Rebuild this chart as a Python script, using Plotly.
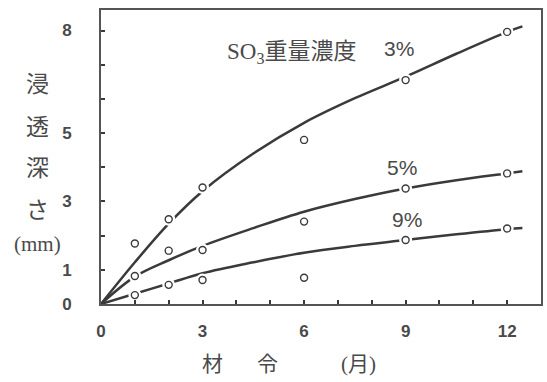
import plotly.graph_objects as go

# Observed penetration depth (mm) at each age (months)
months = [1, 2, 3, 6, 9, 12]
obs_3 = [1.77, 2.48, 3.41, 4.80, 6.55, 7.96]
obs_5 = [0.82, 1.56, 1.58, 2.41, 3.38, 3.82]
obs_9 = [0.26, 0.56, 0.70, 0.77, 1.87, 2.21]

# Smoothed trend curves for each SO3 concentration
curve_x = [0, 1, 2, 3, 4.5, 6, 7.5, 9, 10.5, 12, 12.45]
curve_3 = [0, 1.22, 2.35, 3.30, 4.40, 5.30, 6.02, 6.65, 7.32, 7.96, 8.12]
curve_5 = [0, 0.80, 1.28, 1.70, 2.22, 2.70, 3.07, 3.38, 3.62, 3.82, 3.88]
curve_9 = [0, 0.30, 0.60, 0.90, 1.22, 1.50, 1.70, 1.87, 2.04, 2.19, 2.22]

series_labels = ["3%", "5%", "9%"]
series_label_x = [8.8, 8.9, 9.05]
series_label_y = [7.48, 3.98, 2.46]

x_tickvals = [0, 3, 6, 9, 12]
x_ticktext = ["0", "3", "6", "9", "12"]
y_tickvals = [0, 1, 3, 5, 8]
y_ticktext = ["0", "1", "3", "5", "8"]

ink = "#3a3a3a"
text_col = "#4a4a4a"
cjk = "Liberation Serif, Noto Sans CJK JP"

# plot area in page pixels
W, H = 547, 382
L, R, T, B = 101, 4, 10, 78
plot_w = W - L - R
plot_h = H - T - B


def px_to_paper(px, py):
    return (px - L) / plot_w, 1 - (py - T) / plot_h


fig = go.Figure()

for cy in (curve_3, curve_5, curve_9):
    fig.add_trace(go.Scatter(
        x=curve_x, y=cy, mode="lines",
        line=dict(color=ink, width=2.5, shape="spline", smoothing=1.0),
        hoverinfo="skip", showlegend=False))

# white halo so the curves break around each circle
for oy in (obs_3, obs_5, obs_9):
    fig.add_trace(go.Scatter(
        x=months, y=oy, mode="markers",
        marker=dict(size=13, color="white", line=dict(width=0)),
        hoverinfo="skip", showlegend=False))

for oy in (obs_3, obs_5, obs_9):
    fig.add_trace(go.Scatter(
        x=months, y=oy, mode="markers",
        marker=dict(symbol="circle", size=7, color="white",
                    line=dict(color=ink, width=1.4)),
        showlegend=False))

for lab, lx, ly in zip(series_labels, series_label_x, series_label_y):
    fig.add_annotation(x=lx, y=ly, text=lab, showarrow=False,
                       font=dict(family="Liberation Sans, Arial", size=21, color=text_col))

fig.add_annotation(x=5.63, y=7.34, text="SO<sub>3</sub>重量濃度", showarrow=False,
                   font=dict(family=cjk, size=23, color=text_col))

# vertical y-axis title, one character per line
y_title = ["浸", "透", "深", "さ", "(mm)"]
y_title_pos = [85, 127, 168, 210, 244]
for ch, py in zip(y_title, y_title_pos):
    ax, ay = px_to_paper(37, py)
    fig.add_annotation(x=ax, y=ay, xref="paper", yref="paper",
                       xanchor="center", yanchor="middle", text=ch, showarrow=False,
                       font=dict(family=cjk, size=23 if ch != "(mm)" else 21, color=text_col))

x_title = ["材", "令", "(月)"]
x_title_pos = [213, 268, 360]
for ch, px in zip(x_title, x_title_pos):
    ax, ay = px_to_paper(px, 364)
    fig.add_annotation(x=ax, y=ay, xref="paper", yref="paper",
                       xanchor="center", yanchor="middle", text=ch, showarrow=False,
                       font=dict(family=cjk, size=21, color=text_col))

tick_font = dict(family="Liberation Sans, Arial", size=17, color=text_col, weight="bold")
fig.update_layout(
    width=W, height=H,
    margin=dict(l=L, r=R, t=T, b=B),
    paper_bgcolor="white", plot_bgcolor="white",
    xaxis=dict(range=[0, 13], tickvals=x_tickvals, ticktext=x_ticktext,
               ticks="inside", ticklen=4, tickwidth=1.5, tickcolor=ink,
               minor=dict(ticks="inside", dtick=1, tick0=0, ticklen=4, tickwidth=1.5,
                          tickcolor=ink, showgrid=False),
               showline=True, mirror=True, linewidth=2, linecolor="#555",
               showgrid=False, zeroline=False, ticklabelstandoff=11,
               tickfont=tick_font),
    yaxis=dict(range=[0, 8.6], tickvals=y_tickvals, ticktext=y_ticktext,
               ticks="inside", ticklen=4, tickwidth=1.5, tickcolor=ink,
               minor=dict(ticks="inside", dtick=1, tick0=0, ticklen=4, tickwidth=1.5,
                          tickcolor=ink, showgrid=False),
               showline=True, mirror=True, linewidth=2, linecolor="#555",
               showgrid=False, zeroline=False, ticklabelstandoff=24,
               tickfont=tick_font),
)

fig.write_html("out.html")
